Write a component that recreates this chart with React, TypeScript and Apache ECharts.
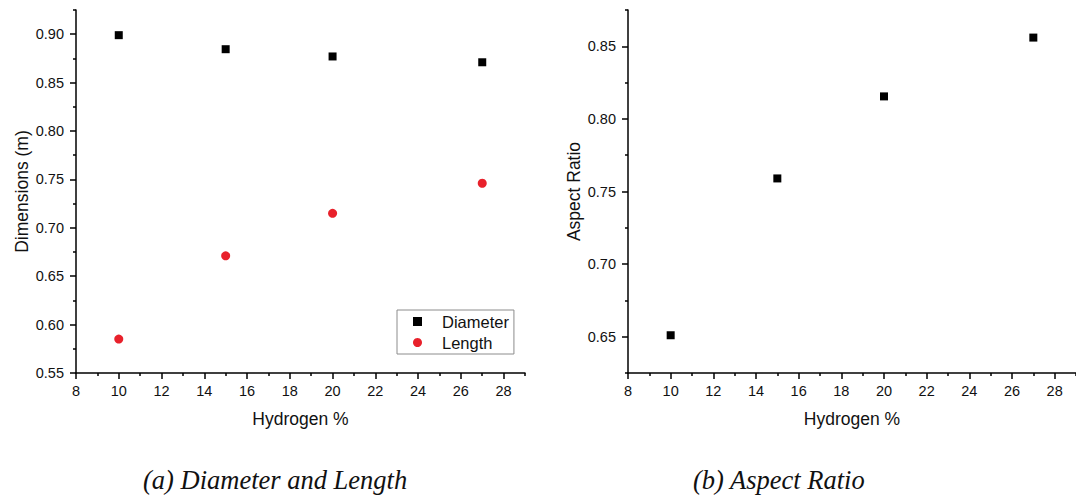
import React, { useEffect, useRef } from "react";
import * as echarts from "echarts";

const hydrogen = [10, 15, 20, 27];
const diameter = [0.899, 0.8845, 0.877, 0.871];
const length = [0.585, 0.671, 0.715, 0.746];
const aspectRatio = [0.651, 0.759, 0.8155, 0.856];

const xMajorTicks = [8, 10, 12, 14, 16, 18, 20, 22, 24, 26, 28];
const xMinorTicks = [9, 11, 13, 15, 17, 19, 21, 23, 25, 27, 29];
const leftYMajorTicks = [0.55, 0.6, 0.65, 0.7, 0.75, 0.8, 0.85, 0.9];
const leftYMinorTicks = [0.575, 0.625, 0.675, 0.725, 0.775, 0.825, 0.875, 0.925];
const rightYMajorTicks = [0.65, 0.7, 0.75, 0.8, 0.85];
const rightYMinorTicks = [0.625, 0.675, 0.725, 0.775, 0.825, 0.875];

const captionA = "(a) Diameter and Length";
const captionB = "(b) Aspect Ratio";

const FONT = "Liberation Sans";
const TXT = "#111";
const RED = "#e8212b";

export default function App() {
  const ref = useRef<HTMLDivElement>(null);

  useEffect(() => {
    if (!ref.current) return;
    const chart = echarts.init(ref.current, null, { renderer: "svg" });

    const lineStyle = { color: "#000", width: 1.5 };
    const labelStyle = { color: TXT, fontFamily: FONT, fontSize: 14.5 };
    const nameStyle = { color: TXT, fontFamily: FONT, fontSize: 17.5 };

    const mainX = (gridIndex: number, name: string) => ({
      type: "value",
      gridIndex,
      min: 8,
      max: 29,
      name,
      nameLocation: "middle",
      nameGap: 37,
      nameTextStyle: nameStyle,
      axisLine: { show: true, lineStyle },
      axisTick: { show: true, length: 6, lineStyle, customValues: xMajorTicks },
      axisLabel: { ...labelStyle, margin: 10, customValues: xMajorTicks, formatter: (v: number) => String(v) },
      splitLine: { show: false },
    });
    const minorX = (gridIndex: number) => ({
      type: "value",
      gridIndex,
      min: 8,
      max: 29,
      axisLine: { show: false },
      axisTick: { show: true, length: 3, lineStyle, customValues: xMinorTicks },
      axisLabel: { show: false },
      splitLine: { show: false },
    });
    const mainY = (gridIndex: number, name: string, min: number, max: number, ticks: number[]) => ({
      type: "value",
      gridIndex,
      min,
      max,
      name,
      nameLocation: "middle",
      nameGap: 45,
      nameTextStyle: nameStyle,
      axisLine: { show: true, lineStyle },
      axisTick: { show: true, length: 6, lineStyle, customValues: ticks },
      axisLabel: { ...labelStyle, margin: 12, customValues: ticks, formatter: (v: number) => v.toFixed(2) },
      splitLine: { show: false },
    });
    const minorY = (gridIndex: number, min: number, max: number, ticks: number[]) => ({
      type: "value",
      gridIndex,
      min,
      max,
      axisLine: { show: false },
      axisTick: { show: true, length: 3, lineStyle, customValues: ticks },
      axisLabel: { show: false },
      splitLine: { show: false },
    });

    chart.setOption({
      animation: false,
      backgroundColor: "#fff",
      grid: [
        { left: 76, top: 10, width: 449, height: 363 },
        { left: 76, top: 10, width: 449, height: 363 },
        { left: 628, top: 10, width: 451, height: 363 },
        { left: 628, top: 10, width: 451, height: 363 },
      ],
      xAxis: [mainX(0, "Hydrogen %"), minorX(1), mainX(2, "Hydrogen %"), minorX(3)],
      yAxis: [
        mainY(0, "Dimensions (m)", 0.55, 0.925, leftYMajorTicks),
        minorY(1, 0.55, 0.925, leftYMinorTicks),
        mainY(2, "Aspect Ratio", 0.625, 0.875, rightYMajorTicks),
        minorY(3, 0.625, 0.875, rightYMinorTicks),
      ],
      legend: {
        data: ["Diameter", "Length"],
        orient: "vertical",
        left: 397,
        top: 310,
        itemWidth: 9,
        itemHeight: 9,
        itemGap: 4,
        padding: [3, 5, 3, 16],
        borderColor: "#8c8c8c",
        borderWidth: 1,
        selectedMode: false,
        textStyle: { color: TXT, fontFamily: FONT, fontSize: 16.5, lineHeight: 16, padding: [0, 0, 0, 15] },
      },
      series: [
        {
          name: "Diameter",
          type: "scatter",
          xAxisIndex: 0,
          yAxisIndex: 0,
          symbol: "rect",
          symbolSize: 8,
          itemStyle: { color: "#000", opacity: 1 },
          data: hydrogen.map((h, i) => [h, diameter[i]]),
        },
        {
          name: "Length",
          type: "scatter",
          xAxisIndex: 0,
          yAxisIndex: 0,
          symbol: "circle",
          symbolSize: 9,
          itemStyle: { color: RED, opacity: 1 },
          data: hydrogen.map((h, i) => [h, length[i]]),
        },
        {
          name: "Aspect Ratio",
          type: "scatter",
          xAxisIndex: 2,
          yAxisIndex: 2,
          symbol: "rect",
          symbolSize: 8,
          itemStyle: { color: "#000", opacity: 1 },
          data: hydrogen.map((h, i) => [h, aspectRatio[i]]),
        },
      ],
      graphic: [
        {
          type: "text",
          left: 143,
          top: 466,
          style: { text: captionA, fontFamily: "Liberation Serif", fontStyle: "italic", fontSize: 26.5, fill: "#111" },
        },
        {
          type: "text",
          left: 693,
          top: 466,
          style: { text: captionB, fontFamily: "Liberation Serif", fontStyle: "italic", fontSize: 26.5, fill: "#111" },
        },
      ],
    });

    return () => chart.dispose();
  }, []);

  return (
    <div
      ref={ref}
      style={{ position: "absolute", left: 0, top: 0, width: 1076, height: 498 }}
    />
  );
}
